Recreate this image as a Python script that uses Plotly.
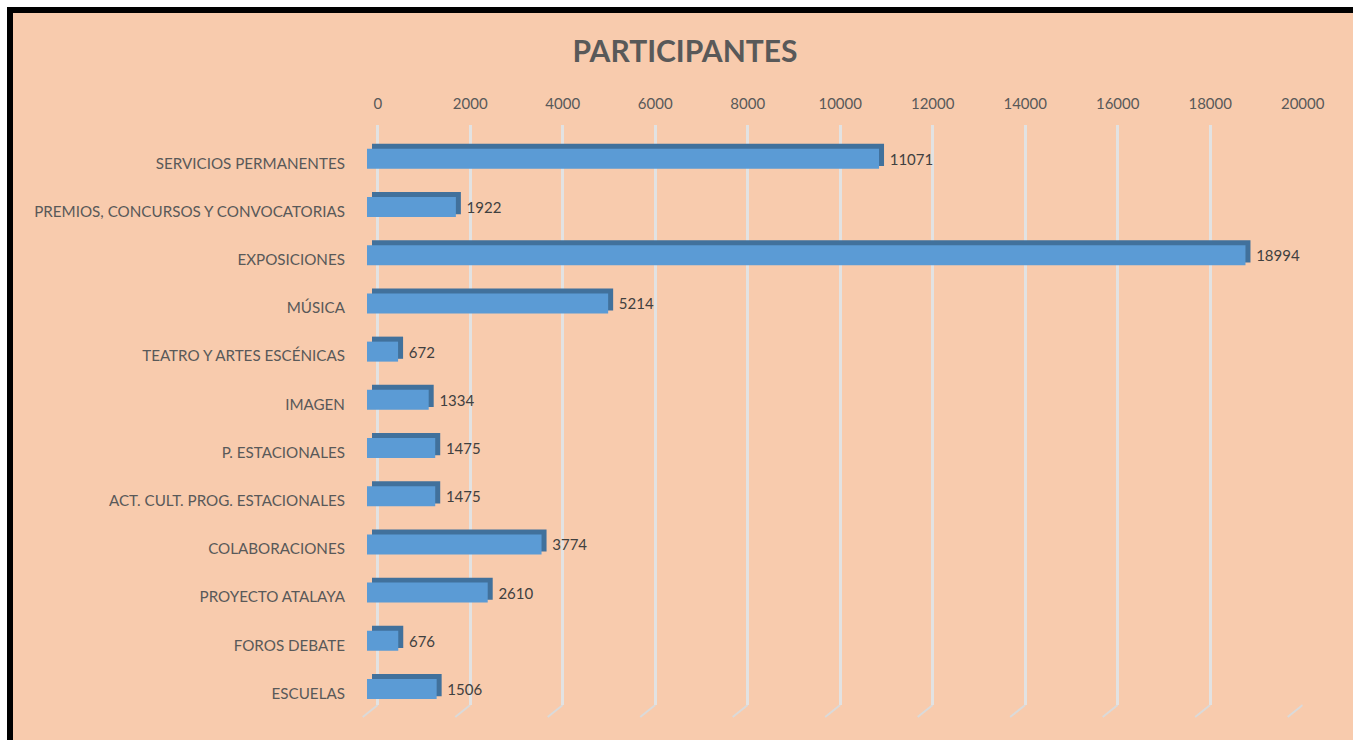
import plotly.graph_objects as go

W, H = 1353, 740

categorias = [
    'SERVICIOS PERMANENTES',
    'PREMIOS, CONCURSOS Y CONVOCATORIAS',
    'EXPOSICIONES',
    'MÚSICA',
    'TEATRO Y ARTES ESCÉNICAS',
    'IMAGEN',
    'P. ESTACIONALES',
    'ACT. CULT. PROG. ESTACIONALES',
    'COLABORACIONES',
    'PROYECTO ATALAYA',
    'FOROS DEBATE',
    'ESCUELAS',
]
participantes = [11071, 1922, 18994, 5214, 672, 1334, 1475, 1475, 3774, 2610, 676, 1506]
ticks = [0, 2000, 4000, 6000, 8000, 10000, 12000, 14000, 16000, 18000, 20000]

PEACH = '#F8CBAD'
BLUE = '#5B9BD5'
BLUE_DK = '#41719C'
GRID = '#E2E2E2'
INK = '#595959'
FONT = 'Lato, Calibri, sans-serif'


def fx(p):
    return p / W


def fy(p):
    return 1 - p / H


fig = go.Figure()

# back wall: only carries the gridlines and the top tick labels
fig.add_trace(go.Bar(x=participantes, y=categorias, orientation='h',
    marker_color='rgba(0,0,0,0)', hoverinfo='skip', showlegend=False,
    xaxis='x', yaxis='y'))
# dark top / side faces of the 3d bars
fig.add_trace(go.Bar(x=participantes, y=categorias, orientation='h',
    marker=dict(color=BLUE_DK, line=dict(width=0)), offset=-0.404, width=0.46,
    hoverinfo='skip', showlegend=False, xaxis='x2', yaxis='y2'))
# front faces (+ value labels)
fig.add_trace(go.Bar(x=participantes, y=categorias, orientation='h',
    marker=dict(color=BLUE, line=dict(width=0)), offset=-0.3005, width=0.415,
    text=['\u00a0\u00a0' + str(v) for v in participantes], textposition='outside',
    outsidetextfont=dict(family=FONT, size=15, color='#404040'),
    constraintext='none', cliponaxis=False,
    showlegend=False, xaxis='x3', yaxis='y3',
    hovertemplate='%{y}: %{x}<extra></extra>'))

hidden = dict(showgrid=False, zeroline=False, showticklabels=False, showline=False,
              ticks='', automargin=False)

# frame: white page, black top/left edge, peach chart area
shapes = [
    dict(type='rect', xref='paper', yref='paper', x0=fx(7), x1=1.01, y0=-0.01, y1=fy(7),
         fillcolor='black', line_width=0, layer='below'),
    dict(type='rect', xref='paper', yref='paper', x0=fx(13), x1=1.01, y0=-0.01, y1=fy(13),
         fillcolor=PEACH, line_width=0, layer='below'),
]
# little floor "feet" at the bottom of each gridline
for t in ticks:
    shapes.append(dict(type='line', xref='x', yref='paper', xsizemode='pixel', xanchor=t,
                       x0=0, x1=-15, y0=fy(705), y1=fy(717),
                       line=dict(color='#DADADA', width=2), layer='below'))

fig.update_layout(
    width=W, height=H, template='none',
    paper_bgcolor='white', plot_bgcolor='rgba(0,0,0,0)',
    margin=dict(l=0, r=0, t=0, b=0),
    font=dict(family=FONT, color=INK),
    barmode='overlay', showlegend=False,
    title=dict(text='<b>PARTICIPANTES</b>', x=fx(685), y=fy(51), xanchor='center',
               yanchor='middle', font=dict(family=FONT, size=30, color=INK)),
    # back wall axis; a little room left of 0 so the first floor foot is not clipped
    xaxis=dict(domain=[fx(362), fx(1302.7)], range=[-340, 20000], side='top',
               tickvals=ticks, ticktext=[str(t) for t in ticks],
               showgrid=True, gridcolor=GRID, gridwidth=3,
               zeroline=True, zerolinecolor=GRID, zerolinewidth=3,
               showline=False, ticks='outside', ticklen=9, tickcolor='rgba(0,0,0,0)',
               tickfont=dict(family=FONT, size=15, color=INK), automargin=False,
               fixedrange=True),
    yaxis=dict(domain=[fy(705), fy(125)], autorange='reversed', **hidden),
    xaxis2=dict(domain=[fx(372), fx(1297)], range=[0, 20000], anchor='y2', **hidden),
    yaxis2=dict(domain=[fy(717.6), fy(139.2)], autorange='reversed', anchor='x2', **hidden),
    xaxis3=dict(domain=[fx(367), fx(1292)], range=[0, 20000], anchor='y3', **hidden),
    yaxis3=dict(domain=[fy(717.6), fy(139.2)], autorange='reversed', anchor='x3',
                showgrid=False, zeroline=False, showline=False,
                ticks='outside', ticklen=18, tickcolor='rgba(0,0,0,0)',
                tickfont=dict(family=FONT, size=15.2, color=INK), automargin=False),
    shapes=shapes,
)

fig.write_html('out.html', config={'displayModeBar': False},
               post_script="document.body.style.margin='0';")
